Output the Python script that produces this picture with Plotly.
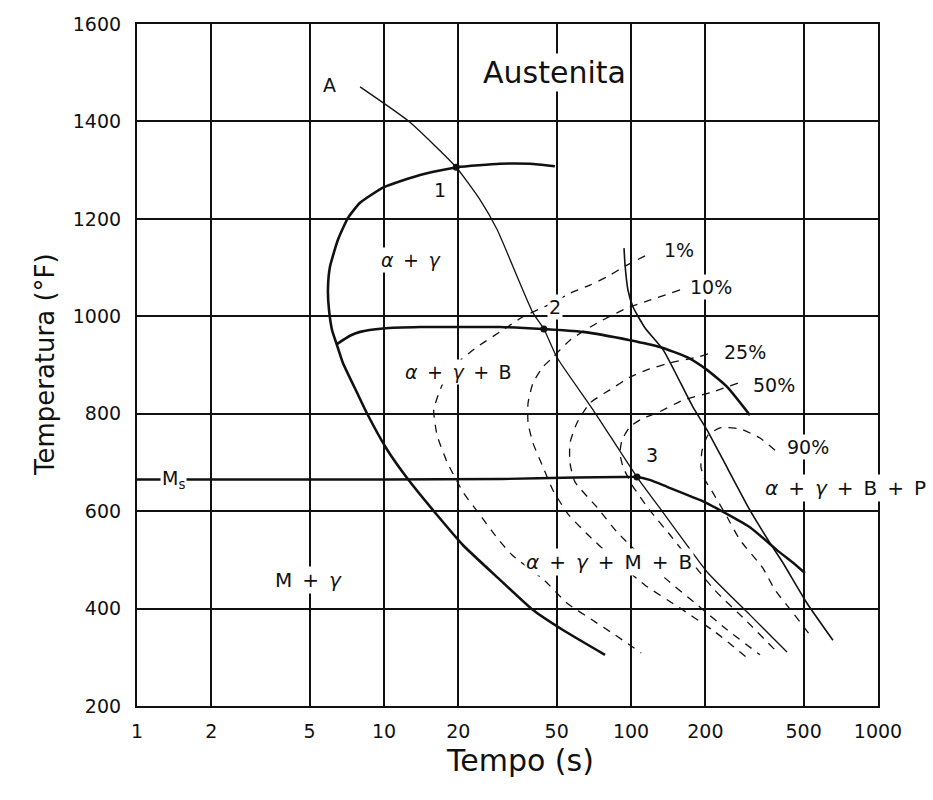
import math
import plotly.graph_objects as go

# ---------------- data (time in s, temperature in °F) ----------------
x_ticks = [1, 2, 5, 10, 20, 50, 100, 200, 500, 1000]
y_ticks = [200, 400, 600, 800, 1000, 1200, 1400, 1600]

# cooling curve A
curve_a_t = [8.0, 12.7, 19.6, 24.5, 28.7, 40.1, 44.4, 50.1, 70.2, 105.7, 131, 162.5, 205, 303, 428]
curve_a_T = [1471, 1399, 1306, 1239, 1178, 1007, 974, 916, 808, 670, 606, 541, 473, 387, 311]

# ferrite start (alpha + gamma boundary)
ferrite_t = [49.2, 39.0, 29.5, 19.8, 14.0, 10.0, 8.0, 7.15, 6.51, 6.04, 5.93, 5.99, 6.16,
             6.45, 6.82, 7.78, 8.53, 10.3, 12.4, 16.4, 20.9, 29.5, 40.1, 53.0, 78.5]
ferrite_T = [1308, 1313, 1313, 1306, 1290, 1265, 1233, 1202, 1157, 1101, 1054, 1013, 972,
             941, 904, 843, 801, 726, 668, 592, 530, 459, 397, 356, 305]

# bainite start
bainite_t = [6.45, 7.28, 8.0, 9.91, 14.0, 20.3, 29.5, 44.0, 63.9, 99, 131, 168.6, 203, 245, 303]
bainite_T = [943, 960, 968, 975, 978, 978, 978, 974, 968, 951, 937, 916, 890, 855, 797]

# Ms line and its continuation
ms_t = [1, 10, 30, 60, 90, 105.7, 119, 140, 190, 209, 303, 390, 453, 506]
ms_T = [665, 665, 666, 669, 670, 670, 664, 650, 623, 613, 567, 520, 494, 473]

# pearlite start (thin)
pearl_t = [93.7, 94.6, 97.2, 101.9, 114, 135, 178, 203, 236, 303, 365, 412, 516, 657]
pearl_T = [1140, 1105, 1054, 1019, 976, 931, 814, 767, 705, 602, 535, 494, 411, 335]

# transformation iso-lines (dashed)
p1_t = [114, 94.6, 80.0, 68.2, 58.2, 46.1, 36.5, 29.5, 23.8, 19.4, 17.2, 15.9, 16.4, 18.0,
        20.9, 24.5, 28.7, 33.0, 44.4, 55.1, 69.5, 86.1, 110]
p1_T = [1124, 1103, 1081, 1064, 1050, 1023, 999, 968, 937, 900, 859, 808, 756, 701,
        639, 592, 545, 510, 459, 411, 377, 346, 309]

p10_t = [158, 119, 96.4, 72.8, 56.6, 48.3, 44.0, 40.1, 38.3, 38.3, 40.1, 44.0, 48.3, 55.6,
         65.8, 86.1, 114, 158, 219, 303]
p10_T = [1054, 1033, 1017, 986, 951, 916, 896, 863, 822, 781, 740, 691, 643, 594,
         555, 500, 448, 401, 352, 294]

p25_t = [205, 185, 148, 116, 99, 82.2, 68.2, 60.4, 56.6, 56.6, 59.3, 72.8, 87.8, 109, 137,
         182, 240, 333]
p25_T = [923, 916, 906, 890, 875, 849, 822, 781, 740, 699, 660, 608, 557, 510, 463,
         411, 360, 305]

p50_t = [271, 209, 162.5, 127, 112, 99, 92, 90.2, 92.8, 102, 119, 144, 173, 218, 290, 383]
p50_T = [863, 843, 828, 801, 791, 773, 746, 719, 691, 650, 602, 551, 500, 438, 377, 315]

p90_t = [383, 333, 276, 229, 205, 194, 192, 199.5, 215, 245, 276, 342, 383, 453, 541]
p90_T = [725, 750, 769, 771, 756, 725, 690, 664, 637, 588, 541, 483, 438, 391, 340]

# marked points 1, 2, 3
points_t = [19.6, 44.4, 105.7]
points_T = [1306, 974, 670]

# text labels
label_text = ["Austenita", "A", "1", "2", "3",
              "<i>α</i>\u2002+\u2002<i>γ</i>",
              "<i>α</i>\u2002+\u2002<i>γ</i>\u2002+\u2002B",
              "<i>α</i>\u2002+\u2002<i>γ</i>\u2002+\u2002M\u2002+\u2002B",
              "<i>α</i>\u2002+\u2002<i>γ</i>\u2002+\u2002B\u2002+\u2002P",
              "M\u2002+\u2002<i>γ</i>",
              "1%", "10%", "25%", "50%", "90%", "M<sub>s</sub>"]
label_t = [48.8, 6.04, 16.9, 49.2, 121.6, 12.9, 20.1, 81.5, 742, 4.93,
           156, 211, 290, 379, 521, 1.40]
label_T = [1501, 1475, 1259, 1019, 715, 1116, 886, 496, 648, 459,
           1136, 1060, 927, 859, 732, 664]
label_size = [30, 19, 19, 19, 19, 19, 19, 20, 20, 20, 19, 19, 19, 19, 19, 19]

# ---------------- figure ----------------
INK = "#111111"
FONT = "DejaVu Sans"

fig = go.Figure()

def add_line(t, T, width, dash="solid"):
    fig.add_trace(go.Scatter(
        x=t, y=T, mode="lines",
        line=dict(color=INK, width=width, dash=dash, shape="spline", smoothing=0.5),
        hoverinfo="skip", showlegend=False))

add_line(ferrite_t, ferrite_T, 2.6)
add_line(bainite_t, bainite_T, 2.6)
add_line(ms_t, ms_T, 2.4)
add_line(curve_a_t, curve_a_T, 1.3)
add_line(pearl_t, pearl_T, 1.6)
for tt, TT in [(p1_t, p1_T), (p10_t, p10_T), (p25_t, p25_T), (p50_t, p50_T), (p90_t, p90_T)]:
    add_line(tt, TT, 1.3, dash="8px,7px")

fig.add_trace(go.Scatter(
    x=points_t, y=points_T, mode="markers",
    marker=dict(color=INK, size=7), hoverinfo="skip", showlegend=False))

for txt, t, T, s in zip(label_text, label_t, label_T, label_size):
    fig.add_annotation(
        x=math.log10(t), y=T, xref="x", yref="y", text=txt, showarrow=False,
        font=dict(family=FONT, size=s, color=INK), bgcolor="white",
        borderpad=1, xanchor="center", yanchor="middle")

# axis titles
fig.add_annotation(x=-0.147, y=0.5, xref="paper", yref="paper",
                   text="Temperatura (°F)", textangle=-90, showarrow=False,
                   font=dict(family=FONT, size=26, color=INK))
fig.add_annotation(x=0.517, y=-0.108, xref="paper", yref="paper",
                   text="Tempo (s)", showarrow=False,
                   font=dict(family=FONT, size=30, color=INK))

fig.update_xaxes(
    type="log", range=[0, 3], tickvals=x_ticks, ticktext=[str(v) for v in x_ticks],
    showgrid=True, gridcolor=INK, gridwidth=1.6,
    showline=True, linecolor=INK, linewidth=2.2, mirror=True,
    ticks="outside", ticklen=0, ticklabelstandoff=7,
    tickfont=dict(family=FONT, size=19, color=INK), zeroline=False)
fig.update_yaxes(
    range=[200, 1600], tickvals=y_ticks,
    showgrid=True, gridcolor=INK, gridwidth=2.0,
    showline=True, linecolor=INK, linewidth=2.2, mirror=True,
    ticks="outside", ticklen=0, ticklabelstandoff=10,
    tickfont=dict(family=FONT, size=19, color=INK), zeroline=False)

fig.update_layout(
    width=933, height=800,
    margin=dict(l=137, r=55, t=24, b=94),
    paper_bgcolor="white", plot_bgcolor="white",
    showlegend=False)

fig.write_html("out.html")
